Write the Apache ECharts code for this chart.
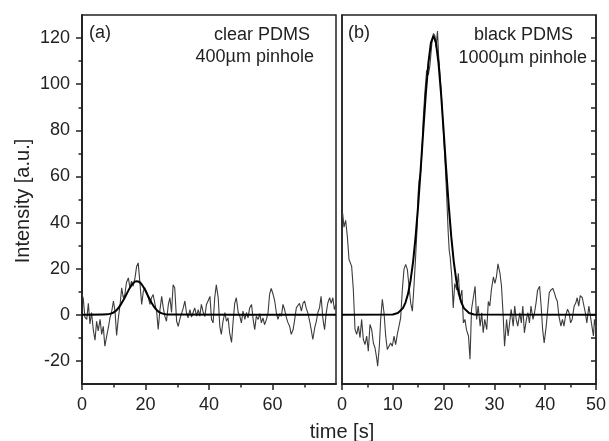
<!DOCTYPE html>
<html><head><meta charset="utf-8">
<script src="https://cdn.jsdelivr.net/npm/echarts@6/dist/echarts.min.js"></script>
<style>html,body{margin:0;padding:0;background:#fff}#c{width:609px;height:441px}</style>
</head><body><div id="c"></div><script>
// Panel (a): clear PDMS, 400um pinhole
const timeA = [0, 0.4, 0.9, 1.5, 2.0, 2.5, 3.0, 3.6, 4.1, 4.6, 5.1, 5.7, 6.2, 6.7, 7.2, 7.8, 8.3, 8.8, 9.3, 9.9,
  10.4, 10.9, 11.4, 12.0, 12.5, 13.0, 13.5, 14.0, 14.6, 15.1, 15.6, 16.1, 16.7, 17.2, 17.7, 18.2, 18.8, 19.3, 19.8, 20.3,
  20.9, 21.4, 21.9, 22.4, 23.0, 23.5, 24.0, 24.5, 25.1, 25.6, 26.1, 26.6, 27.2, 27.7, 28.2, 28.7, 29.2, 29.8, 30.3, 30.8,
  31.3, 31.9, 32.4, 32.9, 33.4, 34.0, 34.5, 35.0, 35.5, 36.1, 36.6, 37.1, 37.6, 38.2,
  38.7, 39.2, 39.7, 40.3, 40.8, 41.3, 41.8, 42.3, 42.9, 43.4, 43.9, 44.4, 45.0, 45.5, 46.0, 46.5, 47.1, 47.6, 48.1, 48.6,
  49.2, 49.7, 50.2, 50.7, 51.3, 51.8, 52.3, 52.8, 53.4, 53.9, 54.4, 54.9, 55.5, 56.0, 56.5, 57.0, 57.5, 58.1, 58.6, 59.1,
  59.6, 60.2, 60.7, 61.2, 61.7, 62.3, 62.8, 63.3, 63.8, 64.4, 64.9, 65.4, 65.9, 66.5, 67.0, 67.5, 68.0, 68.5, 69.1, 69.6,
  70.1, 70.6, 71.2, 71.7, 72.2, 72.7, 73.3, 73.8, 74.3, 74.8, 75.3, 75.9, 76.4, 76.9, 77.4, 78.0, 78.5, 79.0, 79.5, 80.0];
const intensityA = [9, 7, -1, -2, 5, -4, 1, -7, -11, -2.8, -7, -2, -8.5, -5, -13.6, -9, -5.6, -1.3, 1, 6,
  1.6, -9, -2, 4.5, 11.7, 7.4, 8.8, 14, 16, 11.7, 14.6, 12.4, 16, 21, 22.5, 14.6, 4.5, 10, 11.7, 10,
  7.4, 4.5, 7.4, 8.8, 4.5, 1.6, -6.4, 1.6, 8, 3, -0.6, -2.8, 4.5, 7.4, 1, 13, 11.7, -2.8, -5, -2,
  -2.8, 3, 6, 1, -1.3, 2.3, -1, 1, 3, -0.6, 2.3, -0.6, 4.5, 1,
  -0.7, 4.5, 6, 8, -2, -3.5, 7.4, 13, 7.4, -5, -8.5, -2.8, 1, -2.8, -1.3, -7.8, -12, -2.8, 5, 7.4,
  1, -0.6, -3.5, 1.6, -2, 1, -1.3, 3, 4.5, -2, -6.4, -0.6, -2, 0.5, -3.5, -1.3, -4.3, -2, 1, 9,
  11.5, 8.8, 6, 1, -2, 0.5, -0.6, 4.5, 2.3, -1.3, -3.5, -5, -8.5, -6.4, -2, 3, 3.8, 5, 1.6, 5,
  6, 3, 0.5, -2.8, -6.4, -10.7, -5.6, -2.8, 1, 3, 8, -2, -6.4, 0.5, 5, 7.4, 5, 7.4, 2.3, 4.5];
const fitTimeA = [0, 8, 9, 10, 11, 12, 13, 14, 15, 16, 17, 18, 19, 20, 21, 22, 23, 24, 25, 26, 27, 80];
const fitA = [0, 0.2, 0.5, 1.1, 2.2, 4.0, 6.3, 8.9, 11.5, 13.5, 14.5, 14.3, 12.8, 10.4, 7.6, 5.0, 2.9, 1.5, 0.7, 0.3, 0.1, 0];

// Panel (b): black PDMS, 1000um pinhole
const timeB = [0, 0.13, 0.39, 0.72, 1.05, 1.38, 1.9, 2.23, 2.56, 2.89, 3.22, 3.54, 3.87, 4.2, 4.53, 4.86, 5.18, 5.51, 5.84, 6.17,
  6.5, 6.82, 7.02, 7.35, 7.61, 7.94, 8.27, 8.6, 8.92, 9.25, 9.58, 9.91, 10.24, 10.56, 10.89, 11.22, 11.55, 11.88, 12.2, 12.53,
  12.86, 13.19, 13.52, 13.85, 14.17, 14.5, 14.83, 15.0, 15.16, 15.5, 15.8, 16.0, 16.3, 16.67, 17.0, 17.3, 17.7, 18.0, 18.3, 18.5,
  18.8, 19.0, 19.3, 19.6, 20.0, 20.3, 20.6, 20.9, 21.1, 21.3, 21.6, 21.9, 22.2, 22.6, 22.9, 23.2, 23.6, 23.9, 24.2, 24.5,
  24.9, 25.2, 25.5, 25.8, 26.2, 26.5, 26.8, 27.2, 27.5, 27.8, 28.1, 28.5, 28.8, 29.1, 29.4, 29.8, 30.1, 30.4, 30.7, 31.1,
  31.4, 31.7, 32.0, 32.4, 32.7, 33.0, 33.3, 33.7, 34.0, 34.3, 34.6, 35.0, 35.3, 35.6, 35.9, 36.3, 36.6, 36.9, 37.2, 37.6,
  37.9, 38.2, 38.5, 38.9, 39.2, 39.5, 39.8, 40.2, 40.5, 40.8, 41.1, 41.5, 41.8, 42.1, 42.4, 42.7, 43.1, 43.4, 43.7, 44.0,
  44.4, 44.7, 45.0, 45.3, 45.7, 46.0, 46.3, 46.6, 46.9, 47.3, 47.6, 47.9, 48.2, 48.6, 48.9, 49.2, 49.5, 49.7, 50.0];
const intensityB = [42, 44, 38, 41, 34, 24, 21, 11, -6.3, -8.5, -4.9, -9.9, -2, -10.7, -12.9, -9.2, -15.8, -4.2, -6.3, -12.2,
  -14.4, -18.7, -22.3, -13.6, -2, 6.7, 0.9, -9.2, -15, -15.8, -12.2, -13.6, -9.2, -12.9, -8.5, -7.8, -1.3, 11, 19.7, 21.9,
  19.7, 12.5, 5.2, 1.6, 12.5, 25.4, 40, 53, 58, 62, 74, 85, 96, 106, 104, 108, 118, 122, 121, 116,
  123, 113, 104, 94, 78, 66, 52, 36, 28, 25, 16.8, 3, 13.6, 10.7, 18, 6.6, 10.7, -3.5, -2, -6.4,
  -9.2, -19.3, 2.4, 2.4, 12.4, -2, 3.8, -4.9, 0.9, -7.8, -2, -6.4, 5.8, 3.8, 10.7, 16.4, 13.6, 16.4, 22.1, 18,
  12.4, 0.9, -13.6, -2, -9.2, -3.5, 2.4, -4.9, 3.8, -2, -4.9, 0.9, -3.5, 3.8, -7.8, -2, 0.9, -3.5, 3.8, -2,
  0.9, 5.2, 10.7, 12.4, 3.8, -6.4, -12.2, -4.9, 2.4, 9.6, 10.7, 11.5, 9.6, 7.4, 5.8, -0.6, -4.9, -2, -4.9, -0.6,
  2.4, 0.9, -3.5, -2, 3.8, 5, 7.4, 3.8, 8.3, 7.4, 7.4, 0.9, -3.5, 3.8, -0.6, -4.9, -9.2, -2, -6];
const fitTimeB = [0, 10, 11, 12, 12.5, 13, 13.5, 14, 14.5, 15, 15.5, 16, 16.5, 17, 17.5, 18, 18.5, 19, 19.5, 20, 20.5, 21, 21.5, 22, 22.5, 23, 23.5, 24, 25, 26, 50];
const fitB = [0, 0.16, 0.77, 2.9, 5.3, 9.1, 14.9, 23.1, 34.1, 47.7, 63.4, 80.0, 95.9, 109.1, 117.9, 121, 117.9, 109.1, 95.9, 80.0, 63.4, 47.7, 34.1, 23.1, 14.9, 9.1, 5.3, 2.9, 0.77, 0.16, 0];

// Tick positions
const yMajorTicks = [-20, 0, 20, 40, 60, 80, 100, 120];
const yMinorTicks = [-10, 10, 30, 50, 70, 90, 110];
const yRightTicks = [-20, -10, 0, 10, 20, 30, 40, 50, 60, 70, 80, 90, 100, 110, 120];
const xMinorTicksA = [10, 30, 50, 70];
const xMinorTicksB = [5, 15, 25, 35, 45];

const zip = (t, v) => t.map((x, i) => [x, v[i]]);
const INK = '#222';
const FONT = 'Liberation Sans, Arial, sans-serif';
const axisLine = { show: true, onZero: false, lineStyle: { color: INK, width: 1.5 } };
const tickStyle = { color: INK, width: 1.5 };

const chart = echarts.init(document.getElementById('c'), null, { renderer: 'canvas' });
chart.setOption({
  animation: false,
  backgroundColor: '#fff',
  grid: [
    { left: 82, top: 15, width: 254, height: 369, show: true, borderColor: INK, borderWidth: 1.5, containLabel: false },
    { left: 342, top: 15, width: 254, height: 369, show: true, borderColor: INK, borderWidth: 1.5, containLabel: false }
  ],
  xAxis: [
    { type: 'value', gridIndex: 0, position: 'bottom', min: 0, max: 80, interval: 20, axisLine,
      axisTick: { show: true, inside: false, length: 6, lineStyle: tickStyle },
      splitLine: { show: false },
      axisLabel: { color: INK, fontSize: 18, fontFamily: FONT, margin: 12, showMaxLabel: false,
        formatter: v => (v === 80 ? '' : String(v)) } },
    { type: 'value', gridIndex: 1, position: 'bottom', min: 0, max: 50, interval: 10, axisLine,
      axisTick: { show: true, inside: false, length: 6, lineStyle: tickStyle },
      splitLine: { show: false },
      axisLabel: { color: INK, fontSize: 18, fontFamily: FONT, margin: 12 } },
    { type: 'value', gridIndex: 0, position: 'bottom', min: 0, max: 80, axisLine,
      axisTick: { show: true, inside: false, length: 3.5, customValues: xMinorTicksA, lineStyle: tickStyle },
      splitLine: { show: false }, axisLabel: { show: false } },
    { type: 'value', gridIndex: 1, position: 'bottom', min: 0, max: 50, axisLine,
      axisTick: { show: true, inside: false, length: 3.5, customValues: xMinorTicksB, lineStyle: tickStyle },
      splitLine: { show: false }, axisLabel: { show: false } }
  ],
  yAxis: [
    { type: 'value', gridIndex: 0, position: 'left', min: -30, max: 130, axisLine,
      axisTick: { show: true, inside: false, length: 6, customValues: yMajorTicks, lineStyle: tickStyle },
      splitLine: { show: false },
      axisLabel: { color: INK, fontSize: 18, fontFamily: FONT, margin: 12, customValues: yMajorTicks } },
    { type: 'value', gridIndex: 0, position: 'left', min: -30, max: 130, axisLine,
      axisTick: { show: true, inside: false, length: 3.5, customValues: yMinorTicks, lineStyle: tickStyle },
      splitLine: { show: false },
      axisLabel: { show: false } },
    { type: 'value', gridIndex: 1, position: 'left', min: -30, max: 130, axisLine,
      axisTick: { show: false }, splitLine: { show: false }, axisLabel: { show: false } },
    { type: 'value', gridIndex: 1, position: 'right', min: -30, max: 130, axisLine,
      axisTick: { show: true, inside: true, length: 5, customValues: yRightTicks, lineStyle: tickStyle },
      splitLine: { show: false }, axisLabel: { show: false } }
  ],
  series: [
    { type: 'line', xAxisIndex: 0, yAxisIndex: 0, data: zip(timeA, intensityA), showSymbol: false,
      lineStyle: { color: '#3c3c3c', width: 1.1 }, z: 2 },
    { type: 'line', xAxisIndex: 0, yAxisIndex: 0, data: zip(fitTimeA, fitA), showSymbol: false, smooth: 0.3,
      lineStyle: { color: '#000', width: 2 }, z: 3 },
    { type: 'line', xAxisIndex: 1, yAxisIndex: 2, data: zip(timeB, intensityB), showSymbol: false,
      lineStyle: { color: '#3c3c3c', width: 1.1 }, z: 2 },
    { type: 'line', xAxisIndex: 1, yAxisIndex: 2, data: zip(fitTimeB, fitB), showSymbol: false,
      lineStyle: { color: '#000', width: 2 }, z: 3 }
  ],
  graphic: [
    { type: 'text', left: 89, top: 24, style: { text: '(a)', font: '18px ' + FONT, fill: INK } },
    { type: 'text', x: 310, y: 35, style: { text: 'clear PDMS', font: '18px ' + FONT, fill: INK, align: 'right', verticalAlign: 'middle' } },
    { type: 'text', x: 314, y: 57, style: { text: '400µm pinhole', font: '18px ' + FONT, fill: INK, align: 'right', verticalAlign: 'middle' } },
    { type: 'text', left: 348, top: 24, style: { text: '(b)', font: '18px ' + FONT, fill: INK } },
    { type: 'text', x: 573, y: 35, style: { text: 'black PDMS', font: '18px ' + FONT, fill: INK, align: 'right', verticalAlign: 'middle' } },
    { type: 'text', x: 587, y: 58, style: { text: '1000µm pinhole', font: '18px ' + FONT, fill: INK, align: 'right', verticalAlign: 'middle' } },
    { type: 'text', x: 342, y: 432, style: { text: 'time [s]', font: '20px ' + FONT, fill: INK, align: 'center', verticalAlign: 'middle' } },
    { type: 'text', x: 23, y: 201, rotation: Math.PI / 2, style: { text: 'Intensity [a.u.]', font: '20px ' + FONT, fill: INK, align: 'center', verticalAlign: 'middle' } }
  ]
});
</script></body></html>
